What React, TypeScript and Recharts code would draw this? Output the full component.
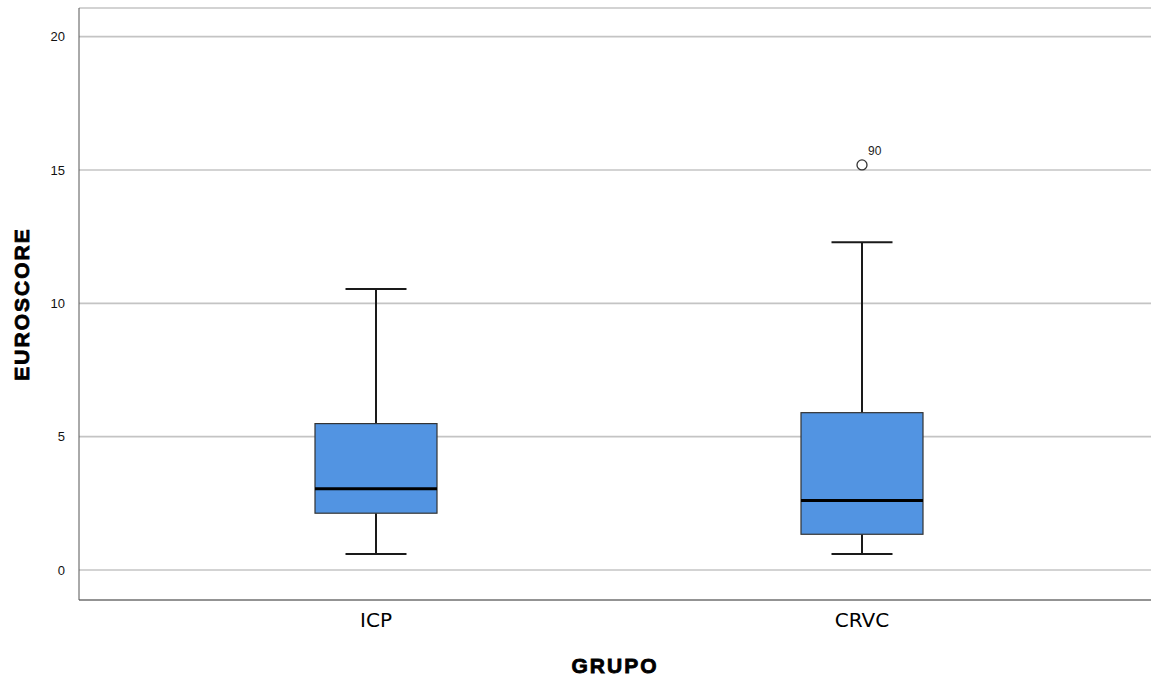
import { ComposedChart, Bar, Line, XAxis, YAxis, CartesianGrid } from "recharts";

// Boxplot values
const groups = ["ICP", "CRVC"];
const whiskerLow = [0.6, 0.6];
const q1 = [2.13, 1.34];
const median = [3.05, 2.61];
const q3 = [5.49, 5.9];
const whiskerHigh = [10.54, 12.29];
const outliers = [null, 15.19];
const outlierLabels = ["", "90"];
const yTicks = [0, 5, 10, 15, 20];

const BOX_FILL = "#5294e2";

const data = groups.map((g, i) => ({
  name: g,
  lo: whiskerLow[i],
  q1: q1[i],
  med: median[i],
  q3: q3[i],
  hi: whiskerHigh[i],
  outlier: outliers[i],
  outlierLabel: outlierLabels[i],
}));

const BoxShape = (props: any) => {
  const { x, y, width, height, payload } = props;
  if (!payload || height == null) return null;
  const { lo, hi } = payload;
  // map a value to pixels inside the [lo, hi] range bar
  const py = (v: number) => y + (height * (hi - v)) / (hi - lo);
  const cx = x + width / 2;
  const capW = width / 2;
  return (
    <g>
      <line x1={cx} x2={cx} y1={py(hi)} y2={py(payload.q3)} stroke="#1a1a1a" strokeWidth={2} />
      <line x1={cx} x2={cx} y1={py(payload.q1)} y2={py(lo)} stroke="#1a1a1a" strokeWidth={2} />
      <line x1={cx - capW / 2} x2={cx + capW / 2} y1={py(hi)} y2={py(hi)} stroke="#1a1a1a" strokeWidth={2} />
      <line x1={cx - capW / 2} x2={cx + capW / 2} y1={py(lo)} y2={py(lo)} stroke="#1a1a1a" strokeWidth={2} />
      <rect
        x={x}
        y={py(payload.q3)}
        width={width}
        height={py(payload.q1) - py(payload.q3)}
        fill={BOX_FILL}
        stroke="#333"
        strokeWidth={1.2}
      />
      <line x1={x} x2={x + width} y1={py(payload.med)} y2={py(payload.med)} stroke="#000" strokeWidth={3} />
    </g>
  );
};

const OutlierDot = (props: any) => {
  const { cx, cy, payload, index } = props;
  if (cy == null || payload?.outlier == null) return <g key={`o-${index}`} />;
  return (
    <g key={`o-${index}`}>
      <circle cx={cx} cy={cy} r={5} fill="#fff" stroke="#333" strokeWidth={1.3} />
      <text x={cx + 6} y={cy - 10} fontSize={12} fill="#222" fontFamily="Liberation Sans, Arial, sans-serif">
        {payload.outlierLabel}
      </text>
    </g>
  );
};

export default function App() {
  return (
    <div style={{ position: "absolute", left: 0, top: 0, background: "#fff" }}>
      <ComposedChart width={1151} height={679} data={data} margin={{ top: 8, right: 0, bottom: 0, left: 0 }}>
        <CartesianGrid vertical={false} stroke="#c4c4c4" strokeWidth={1.6} />
        <XAxis
          dataKey="name"
          height={79}
          padding={{ left: 54, right: 46 }}
          axisLine={{ stroke: "#555", strokeWidth: 1 }}
          tickLine={false}
          tickMargin={7}
          tick={{ fontSize: 20, fill: "#000", fontFamily: "DejaVu Sans, sans-serif" }}
          label={{
            value: "GRUPO",
            position: "insideBottom",
            offset: 6,
            style: {
              fontSize: 21,
              fontWeight: "bold",
              fill: "#000",
              stroke: "#000",
              strokeWidth: 0.8,
              letterSpacing: 2,
              fontFamily: "Liberation Sans, Arial, sans-serif",
            },
          }}
        />
        <YAxis
          width={79}
          type="number"
          domain={[-1.125, 21.075]}
          ticks={yTicks}
          allowDataOverflow
          axisLine={{ stroke: "#555", strokeWidth: 1 }}
          tickLine={false}
          tickMargin={8}
          tick={{ fontSize: 13, fill: "#111", fontFamily: "Liberation Sans, Arial, sans-serif" }}
          label={{
            value: "EUROSCORE",
            angle: -90,
            position: "insideLeft",
            offset: 22,
            style: {
              textAnchor: "middle",
              fontSize: 21,
              fontWeight: "bold",
              fill: "#000",
              stroke: "#000",
              strokeWidth: 0.8,
              letterSpacing: 2,
              fontFamily: "Liberation Sans, Arial, sans-serif",
            },
          }}
        />
        <Bar
          dataKey={(d: any) => [d.lo, d.hi]}
          barSize={122}
          shape={<BoxShape />}
          isAnimationActive={false}
        />
        <Line
          dataKey="outlier"
          stroke="none"
          dot={<OutlierDot />}
          activeDot={false}
          isAnimationActive={false}
        />
      </ComposedChart>
    </div>
  );
}
